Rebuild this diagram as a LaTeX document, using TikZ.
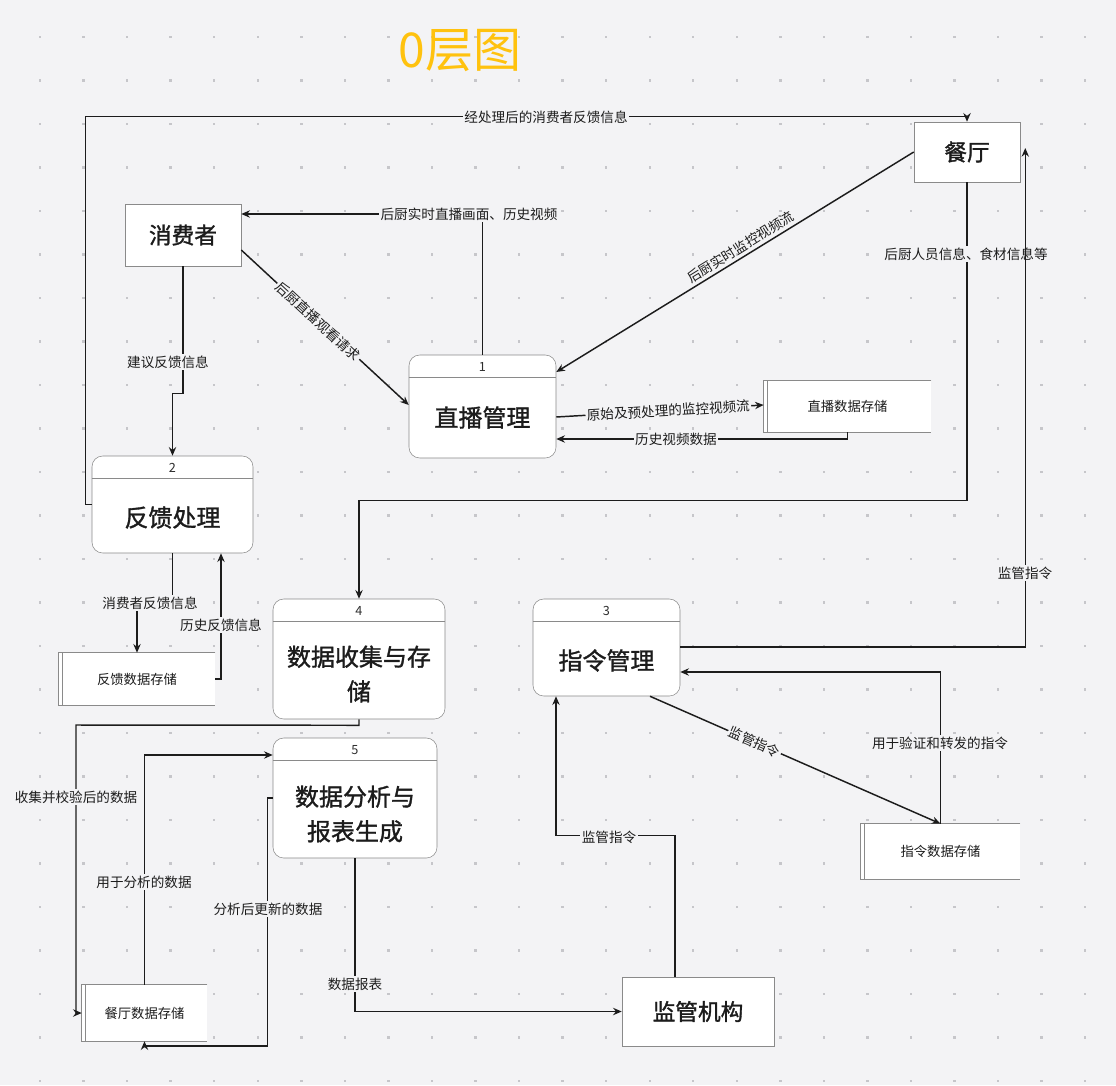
\documentclass[tikz,border=0pt]{standalone}
\usepackage{fontspec}
\setmainfont{Noto Sans CJK SC}
\newfontfamily\boxfont[FakeBold=1.3]{Noto Sans CJK SC}
\usepackage{tikz}
\usetikzlibrary{arrows.meta,calc}
\definecolor{bg}{HTML}{F3F3F5}
\definecolor{dotc}{HTML}{C6C6CA}
\definecolor{ink}{HTML}{1C1C1C}
\definecolor{ink2}{HTML}{2E2E2E}
\definecolor{rim}{HTML}{8A8A8A}
\definecolor{cgold}{HTML}{FFC20E}

\begin{document}
\begin{tikzpicture}[x=0.75pt,y=-0.75pt,
  ent/.style={draw=rim,fill=white,inner sep=0pt,text=ink,font=\fontsize{17}{19}\boxfont},
  proc/.style={draw=rim,fill=white,rounded corners=8pt,inner sep=0pt},
  ptext/.style={text=ink,align=center,font=\fontsize{18}{26}\boxfont},
  pnum/.style={text=ink2,font=\fontsize{9.5}{10}\selectfont},
  store/.style={fill=white,inner sep=0pt,text=ink,font=\fontsize{10}{11}\selectfont},
  flow/.style={draw=ink,line width=1.1pt,-{Stealth[length=6.5pt,width=5.5pt]}},
  lab/.style={fill=bg,inner sep=1pt,text=ink,font=\fontsize{10.2}{11}\selectfont}]
  \fill[bg] (0,0) rectangle (1116,1085);
  \useasboundingbox (0,0) rectangle (1116,1085);
  \foreach \i in {0,...,24} {
    \foreach \j in {0,...,24} {
      \fill[dotc] ({40+43.55*\i-1.2},{37+43.5*\j-1.2}) rectangle ++(2.4,2.4);
    }
  }
  \node[text=cgold,font=\fontsize{36}{40}\selectfont] (title) at (460,51) {0层图};
  % external entities
  \node[ent,minimum width=116*0.75pt,minimum height=62*0.75pt] (cons) at (183,235) {消费者};
  \node[ent,minimum width=106*0.75pt,minimum height=60*0.75pt] (rest) at (967,152) {餐厅};
  \node[ent,minimum width=152*0.75pt,minimum height=69*0.75pt] (reg) at (698,1011.5) {监管机构};
  % processes
  \foreach \nm/\num/\cx/\cy/\w/\h/\dy/\txt in {p1/1/482.5/406.5/147/103/11/直播管理,
      p2/2/172.5/504.5/161/97/13/反馈处理, p3/3/606.5/647.5/147/97/13/指令管理,
      p4/4/359/659/172/120/15/{数据收集与存\\储}, p5/5/355/798/164/120/16/{数据分析与\\报表生成}} {
    \node[proc,minimum width=\w*0.75pt,minimum height=\h*0.75pt] (\nm) at (\cx,\cy) {};
    \draw[rim] ($(\nm.north west)+(0,23)$) -- ($(\nm.north east)+(0,23)$);
    \node[pnum] (\nm n) at ($(\nm.north)+(0,12.5)$) {\num};
    \node[ptext] (\nm t) at ($(\nm.center)+(0,\dy)$) {\txt};
  }
  % data stores
  \foreach \nm/\cx/\cy/\w/\h/\txt in {s1/847.5/406.5/167/51/直播数据存储, s2/137/679/156/52/反馈数据存储,
      s3/940.5/851.5/159/55/指令数据存储, s4/144.5/1013/125/56/餐厅数据存储} {
    \node[store,minimum width=\w*0.75pt,minimum height=\h*0.75pt] (\nm) at (\cx,\cy) {\txt};
    \draw[rim] (\nm.north east) -- (\nm.north west) -- (\nm.south west) -- (\nm.south east);
    \draw[rim] ($(\nm.north west)+(4,0)$) -- ($(\nm.south west)+(4,0)$);
  }
  % flows
  \draw[flow] (p2.west) -- ++(-6,0) |- ($(rest.north)+(0,-5)$) -- (rest.north);
  \node[lab] (l1) at (546,117) {经处理后的消费者反馈信息};
  \draw[flow] (p1.north) |- ($(cons.east)+(0,-21)$);
  \node[lab] (l2) at (469,214) {后厨实时直播画面、历史视频};
  \draw[flow] ($(cons.east)+(0,15)$) -- node[lab,sloped,pos=0.46] (l3) {后厨直播观看请求} ($(p1.west)+(0,-1.5)$);
  \draw[flow] (rest.west) -- node[lab,fill=none,sloped,anchor=south,pos=0.47,inner sep=2pt] (l4) {后厨实时监控视频流} ($(p1.east)+(0,-34.5)$);
  \draw[flow] ($(p1.east)+(0,10.5)$) -- node[lab,sloped,pos=0.54] (l5) {原始及预处理的监控视频流} ($(s1.west)+(0,-1.5)$);
  \draw[flow] (s1.south) |- ($(p1.east)+(0,32.5)$);
  \node[lab] (l6) at (676,439) {历史视频数据};
  \draw[flow] (rest.south) -- ++(0,318) -| (p4.north);
  \node[lab] (l7) at (966,254) {后厨人员信息、食材信息等};
  \coordinate (rtip) at ($(rest.east)+(5,-4)$);
  \draw[flow] ($(p3.east)+(0,-0.5)$) -| (rtip);
  \node[lab] (l8) at (1025,573) {监管指令};
  \draw[flow] (cons.south) -- ++(0,127) -| (p2.north);
  \node[lab] (l9) at (168,362) {建议反馈信息};
  \draw[flow] (p2.south) -- ++(0,50) -| (s2.north);
  \node[lab] (l10) at (150,603) {消费者反馈信息};
  \draw[flow] (s2.east) -| ($(p2.south)+(48.5,0)$);
  \node[lab] (l11) at (221,625) {历史反馈信息};
  \draw[flow] (p4.south) -- ++(0,6) -- (76,725) |- (s4.west);
  \node[lab] (l12) at (76,797) {收集并校验后的数据};
  \draw[flow] (s4.north) |- ($(p5.west)+(0,-43)$);
  \node[lab] (l13) at (144,882) {用于分析的数据};
  \draw[flow] (p5.west) -- ++(-5,0) -- ++(0,248) -| (s4.south);
  \node[lab] (l14) at (268,909) {分析后更新的数据};
  \draw[flow] (p5.south) |- (reg.west);
  \node[lab] (l15) at (355,984) {数据报表};
  \draw[flow] ($(reg.north)+(-23,0)$) -- ++(0,-141) -| ($(p3.south)+(-50.5,0)$);
  \node[lab] (l16) at (609,837) {监管指令};
  \draw[flow] ($(p3.south)+(43.5,0)$) -- node[lab,sloped,pos=0.36] (l17) {监管指令} (s3.north);
  \draw[flow] (s3.north) |- ($(p3.east)+(0,24.5)$);
  \node[lab] (l18) at (940,743) {用于验证和转发的指令};
\end{tikzpicture}
\end{document}
